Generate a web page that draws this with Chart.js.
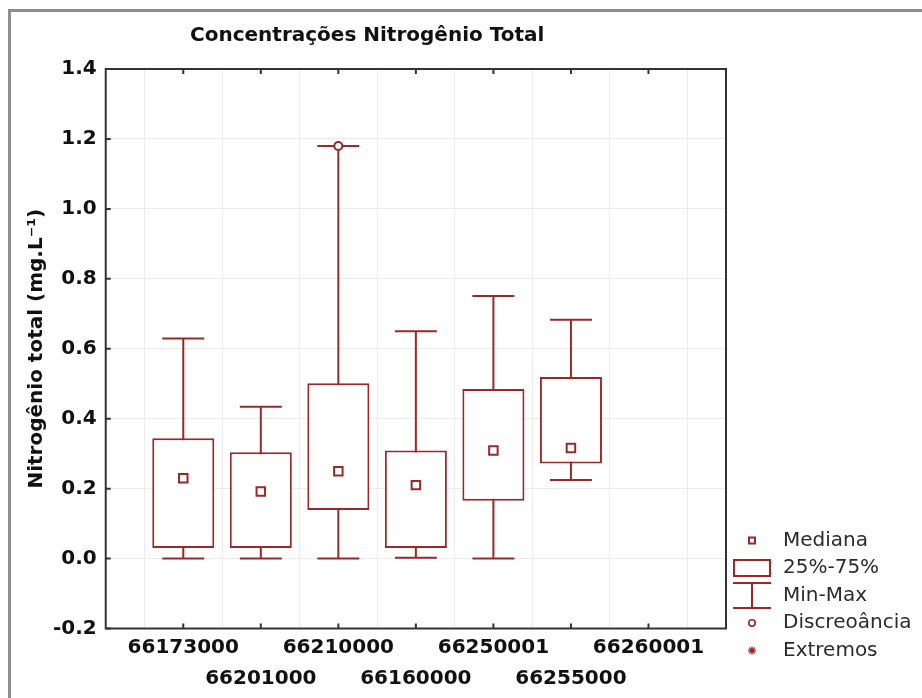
<!DOCTYPE html>
<html lang="pt-BR">
<head>
<meta charset="utf-8">
<title>Concentrações Nitrogênio Total</title>
<script src="https://cdn.jsdelivr.net/npm/chart.js@4.4.1/dist/chart.umd.min.js"></script>
<style>
  html, body { margin: 0; padding: 0; background: #fff; }
  #wrap { position: relative; width: 922px; height: 698px; overflow: hidden; }
  #frame { position: absolute; left: 8px; top: 9px; width: 940px; height: 720px;
           border-top: 3px solid #8e8e8e; border-left: 3px solid #8e8e8e; }
  #chart { position: absolute; left: 0; top: 0; }
</style>
</head>
<body>
<div id="wrap">
  <div id="frame"></div>
  <canvas id="chart" width="922" height="698"></canvas>
</div>
<script>
// estações (eixo x)
var stations = ['66173000', '66201000', '66210000', '66160000', '66250001', '66255000', '66260001'];

// estatísticas por estação (mg.L-1)
var minVals    = [0.000, 0.000, 0.000, 0.002, 0.000, 0.225, null];
var q1Vals     = [0.030, 0.030, 0.139, 0.030, 0.165, 0.272, null];
var medianVals = [0.230, 0.192, 0.250, 0.210, 0.309, 0.316, null];
var q3Vals     = [0.344, 0.304, 0.501, 0.309, 0.485, 0.519, null];
var maxVals    = [0.629, 0.434, 1.180, 0.650, 0.751, 0.683, null];
var outlierVals = [null, null, 1.180, null, null, null, null];
var extremeVals = [null, null, null, null, null, null, null];

var yTickValues = [-0.2, 0.0, 0.2, 0.4, 0.6, 0.8, 1.0, 1.2, 1.4];
var legendTexts = ['Mediana', '25%-75%', 'Min-Max', 'Discreoância', 'Extremos'];

var RED = '#9a2828';

Chart.defaults.font.family = "'DejaVu Sans', 'Liberation Sans', sans-serif";
Chart.defaults.color = '#111';

// one empty slot on each side, like the original axis
function pad(arr) { return [null].concat(arr, [null]); }
var labels = [''].concat(stations, ['']);

var boxes = pad(q1Vals.map(function(q, i) { return q === null ? null : [q, q3Vals[i]]; }));
var whiskers = pad(minVals.map(function(m, i) { return m === null ? null : [m, maxVals[i]]; }));

function makeIcon(w, h, draw) {
	var c = document.createElement('canvas');
	c.width = w; c.height = h;
	var g = c.getContext('2d');
	g.strokeStyle = RED; g.fillStyle = '#fff'; g.lineWidth = 2;
	draw(g, w, h);
	return c;
}
var icons = [
	makeIcon(10, 10, function(g) { g.fillRect(1, 1, 8, 8); g.strokeRect(2, 2, 6, 6); }),
	makeIcon(38, 18, function(g) { g.strokeRect(1, 1, 36, 16); }),
	makeIcon(38, 27, function(g) {
		g.beginPath();
		g.moveTo(0, 1); g.lineTo(38, 1);
		g.moveTo(19, 1); g.lineTo(19, 26);
		g.moveTo(0, 26); g.lineTo(38, 26);
		g.stroke();
	}),
	makeIcon(10, 10, function(g) { g.lineWidth = 1.6; g.beginPath(); g.arc(5, 5, 3.2, 0, Math.PI * 2); g.stroke(); }),
	makeIcon(10, 10, function(g) {
		g.lineWidth = 1.4; g.beginPath();
		for (var a = 0; a < 4; a++) {
			var r = a * Math.PI / 4;
			g.moveTo(5 - Math.cos(r) * 4, 5 - Math.sin(r) * 4);
			g.lineTo(5 + Math.cos(r) * 4, 5 + Math.sin(r) * 4);
		}
		g.stroke();
	})
];

// frame round the plot with short inward ticks
var plotFrame = {
	id: 'plotFrame',
	beforeDatasetsDraw: function(chart) {
		var a = chart.chartArea, ctx = chart.ctx;
		var xs = chart.scales.x, ys = chart.scales.y;
		ctx.save();
		ctx.strokeStyle = '#333';
		ctx.lineWidth = 2;
		ctx.strokeRect(a.left, a.top, a.right - a.left, a.bottom - a.top);
		ctx.beginPath();
		for (var i = 1; i < xs.ticks.length - 1; i++) {
			var px = xs.getPixelForTick(i);
			ctx.moveTo(px, a.top); ctx.lineTo(px, a.top + 5);
			ctx.moveTo(px, a.bottom); ctx.lineTo(px, a.bottom - 5);
		}
		for (var j = 0; j < ys.ticks.length; j++) {
			var py = ys.getPixelForTick(j);
			ctx.moveTo(a.left, py); ctx.lineTo(a.left + 5, py);
		}
		ctx.stroke();
		ctx.restore();
	}
};

// title sits left of centre, legend hangs below the plot bottom
var placeBoxes = {
	id: 'placeBoxes',
	afterLayout: function(chart) {
		var tb = chart.titleBlock;
		tb.left = 190; tb.right = 700; tb.width = tb.right - tb.left;
		var lg = chart.legend;
		lg.left = 723.5; lg.right = 922; lg.width = lg.right - lg.left;
		lg.bottom = 668; lg.height = lg.bottom - lg.top;
	}
};

var chart = new Chart(document.getElementById('chart'), {
	type: 'bar',
	data: {
		labels: labels,
		datasets: [
			{ type: 'line', label: 'Mediana', data: pad(medianVals), showLine: false, order: 0,
			  pointStyle: 'rect', pointRadius: 6, pointBorderWidth: 2, pointBorderColor: RED, pointBackgroundColor: '#fff' },
			{ type: 'line', label: 'Discreoância', data: pad(outlierVals), showLine: false, order: 0,
			  pointStyle: 'circle', pointRadius: 4, pointBorderWidth: 2, pointBorderColor: RED, pointBackgroundColor: '#fff' },
			{ type: 'line', label: 'Extremos', data: pad(extremeVals), showLine: false, order: 0,
			  pointStyle: 'star', pointRadius: 4, pointBorderWidth: 1.5, pointBorderColor: RED },
			{ type: 'line', label: 'Max', data: pad(maxVals), showLine: false, order: 1,
			  pointStyle: 'line', pointRadius: 21, pointBorderWidth: 2, pointBorderColor: RED },
			{ type: 'line', label: 'Min', data: pad(minVals), showLine: false, order: 1,
			  pointStyle: 'line', pointRadius: 21, pointBorderWidth: 2, pointBorderColor: RED },
			{ label: '25%-75%', data: boxes, order: 2, grouped: false,
			  backgroundColor: '#fff', borderColor: RED, borderWidth: 2, borderSkipped: false,
			  barPercentage: 0.8, categoryPercentage: 1 },
			{ label: 'Min-Max', data: whiskers, order: 3, grouped: false,
			  backgroundColor: RED, borderWidth: 0, maxBarThickness: 2 }
		]
	},
	options: {
		responsive: false,
		animation: false,
		events: [],
		layout: { padding: { left: 0, right: 0, top: 0, bottom: 0.5 } },
		scales: {
			x: {
				type: 'category',
				offset: false,
				grid: { color: '#ececec', drawTicks: false },
				border: { display: false },
				ticks: {
					autoSkip: false, maxRotation: 0, minRotation: 0, padding: 3.5,
					color: '#111',
					font: { size: 20, weight: 'bold', lineHeight: 1.55 },
					callback: function(v, i) {
						var name = this.getLabelForValue(v);
						if (!name) return '';
						return (i % 2 === 1) ? [name, ''] : ['', name];
					}
				}
			},
			y: {
				min: -0.2, max: 1.4,
				afterBuildTicks: function(scale) {
					scale.ticks = yTickValues.map(function(v) { return { value: v }; });
				},
				grid: { color: '#ececec', drawTicks: false },
				border: { display: false },
				ticks: {
					padding: 9, color: '#111',
					font: { size: 20, weight: 'bold' },
					callback: function(v) { return Number(v).toFixed(1); }
				},
				title: {
					display: true,
					text: 'Nitrogênio total (mg.L⁻¹)',
					color: '#111',
					font: { size: 20, weight: 'bold', lineHeight: 1.2 },
					padding: { top: 25, bottom: -5 }
				}
			}
		},
		plugins: {
			tooltip: { enabled: false },
			title: {
				display: true,
				text: 'Concentrações Nitrogênio Total',
				align: 'start',
				color: '#111',
				font: { size: 20, weight: 'bold', lineHeight: 1.2 },
				padding: { top: 24, bottom: 21 }
			},
			legend: {
				position: 'right',
				align: 'end',
				maxWidth: 196,
				labels: {
					usePointStyle: true,
					pointStyleWidth: 42,
					padding: 7.5,
					color: '#2b2b2b',
					font: { size: 20 },
					generateLabels: function() {
						return legendTexts.map(function(t, i) {
							return { text: t, pointStyle: icons[i], fillStyle: '#fff', strokeStyle: RED,
							         lineWidth: 2, hidden: false, fontColor: '#2b2b2b' };
						});
					}
				}
			}
		}
	},
	plugins: [plotFrame, placeBoxes]
});
</script>
</body>
</html>
